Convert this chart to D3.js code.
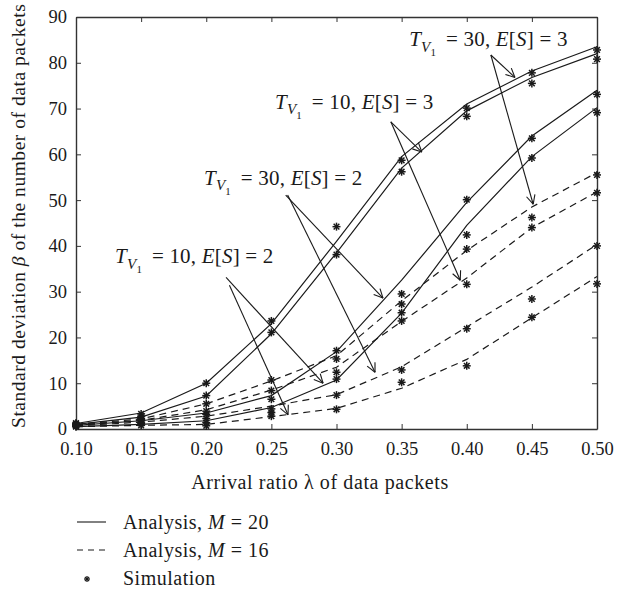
<!DOCTYPE html>
<html>
<head>
<meta charset="utf-8">
<script src="https://cdn.jsdelivr.net/npm/d3@7"></script>
<style>
  html, body { margin: 0; padding: 0; background: #fff; }
  svg { display: block; }
  text { font-family: "Liberation Serif", "Times New Roman", serif; fill: #1a1a1a; }
</style>
</head>
<body>
<svg id="chart" width="618" height="590"></svg>
<script>
// Arrival ratio values on the x axis
const lambdas = [0.10, 0.15, 0.20, 0.25, 0.30, 0.35, 0.40, 0.45, 0.50];
const xTicks = [0.10, 0.15, 0.20, 0.25, 0.30, 0.35, 0.40, 0.45, 0.50];
const yTicks = [0, 10, 20, 30, 40, 50, 60, 70, 80, 90];

// Analytical standard deviation, M = 20 (solid)
const anaM20_T30E3 = [1.2, 3.5, 10.0, 23.0, 41.0, 59.5, 71.0, 78.2, 83.5];
const anaM20_T10E3 = [1.0, 2.6, 7.2, 20.8, 38.5, 57.0, 69.5, 76.8, 82.0];
const anaM20_T30E2 = [0.8, 1.8, 3.5, 7.3, 16.9, 32.5, 49.5, 64.0, 74.0];
const anaM20_T10E2 = [0.5, 1.0, 1.8, 4.7, 10.7, 25.3, 44.5, 59.5, 70.2];
// Analytical standard deviation, M = 16 (dashed)
const anaM16_T30E3 = [1.0, 2.2, 5.5, 10.5, 16.0, 28.0, 39.0, 48.5, 56.0];
const anaM16_T10E3 = [0.9, 1.9, 4.2, 8.5, 13.5, 23.5, 33.0, 44.0, 51.8];
const anaM16_T30E2 = [0.7, 1.5, 2.8, 5.0, 7.5, 13.6, 22.3, 31.0, 40.3];
const anaM16_T10E2 = [0.5, 0.8, 1.0, 2.7, 4.5, 8.9, 15.2, 24.3, 33.3];

// Simulation results
const simM20_T30E3 = [1.3, 3.3, 10.0, 23.6, 44.2, 58.7, 70.1, 77.8, 82.8];
const simM20_T10E3 = [1.1, 2.8, 7.3, 21.1, 38.1, 56.2, 68.3, 75.5, 80.8];
const simM20_T30E2 = [0.9, 2.0, 3.9, 6.5, 17.1, 29.5, 50.1, 63.5, 73.1];
const simM20_T10E2 = [0.6, 1.2, 1.4, 4.4, 10.9, 25.4, 42.4, 59.2, 69.1];
const simM16_T30E3 = [1.0, 2.3, 5.5, 10.7, 15.3, 27.3, 39.3, 46.2, 55.5];
const simM16_T10E3 = [0.9, 1.9, 3.2, 8.4, 12.4, 23.6, 31.6, 44.0, 51.6];
const simM16_T30E2 = [0.7, 1.5, 2.3, 3.6, 7.4, 12.9, 21.9, 28.4, 40.0];
const simM16_T10E2 = [0.5, 0.8, 0.7, 2.8, 4.3, 10.2, 13.8, 24.4, 31.7];

const analysisSeries = [
  { values: anaM20_T30E3, dashed: false },
  { values: anaM20_T10E3, dashed: false },
  { values: anaM20_T30E2, dashed: false },
  { values: anaM20_T10E2, dashed: false },
  { values: anaM16_T30E3, dashed: true },
  { values: anaM16_T10E3, dashed: true },
  { values: anaM16_T30E2, dashed: true },
  { values: anaM16_T10E2, dashed: true }
];
const simulationSeries = [
  simM20_T30E3, simM20_T10E3, simM20_T30E2, simM20_T10E2,
  simM16_T30E3, simM16_T10E3, simM16_T30E2, simM16_T10E2
];

// Curve labels: text anchor and arrow tips in data units
const annotations = [
  { tv: "30", es: "3", at: [0.3558, 83.6], from: [[0.4185, 81.7], [0.4185, 81.7]],
    to: [[0.437, 76.8], [0.451, 49.1]] },
  { tv: "10", es: "3", at: [0.2528, 70.0], from: [[0.3417, 67.1], [0.3417, 67.1]],
    to: [[0.3655, 60.5], [0.395, 32.5]] },
  { tv: "30", es: "2", at: [0.1983, 53.4], from: [[0.2610, 51.1], [0.2625, 51.1]],
    to: [[0.3357, 28.6], [0.3296, 12.4]] },
  { tv: "10", es: "2", at: [0.1300, 36.2], from: [[0.2152, 33.1], [0.2178, 31.4]],
    to: [[0.2897, 10.0], [0.2628, 3.1]] }
];

const legendItems = [
  { kind: "solid", parts: [["Analysis, "], ["M", true], [" = 20"]] },
  { kind: "dashed", parts: [["Analysis, "], ["M", true], [" = 16"]] },
  { kind: "marker", parts: [["Simulation"]] }
];

const ink = "#1a1a1a";
const svg = d3.select("#chart");
const x = d3.scaleLinear().domain([0.10, 0.50]).range([76, 597]);
const y = d3.scaleLinear().domain([0, 90]).range([429, 17]);

// Axes box with inward ticks on all four sides
const fmtX = d3.format(".2f");
const axisStyle = g => {
  g.selectAll(".domain").attr("stroke", "#333").attr("stroke-width", 1.4);
  g.selectAll(".tick line").attr("stroke", "#333").attr("stroke-width", 1);
  g.selectAll("text").attr("font-family", "Liberation Serif, serif")
    .attr("font-size", 18.5).attr("fill", ink);
};
svg.append("g").attr("transform", `translate(0,${y(0)})`)
  .call(d3.axisBottom(x).tickValues(xTicks).tickFormat(fmtX).tickSizeInner(-5).tickSizeOuter(0).tickPadding(13))
  .call(axisStyle);
svg.append("g").attr("transform", `translate(0,${y(90)})`)
  .call(d3.axisTop(x).tickValues(xTicks).tickFormat("").tickSizeInner(-5).tickSizeOuter(0))
  .call(axisStyle);
svg.append("g").attr("transform", `translate(${x(0.10)},0)`)
  .call(d3.axisLeft(y).tickValues(yTicks).tickFormat(d3.format("d")).tickSizeInner(-5).tickSizeOuter(0).tickPadding(9))
  .call(axisStyle);
svg.append("g").attr("transform", `translate(${x(0.50)},0)`)
  .call(d3.axisRight(y).tickValues(yTicks).tickFormat("").tickSizeInner(-5).tickSizeOuter(0))
  .call(axisStyle);

// Analysis curves
const line = d3.line().x((d, i) => x(lambdas[i])).y(d => y(d));
svg.append("g").selectAll("path").data(analysisSeries).join("path")
  .attr("d", d => line(d.values))
  .attr("fill", "none")
  .attr("stroke", ink)
  .attr("stroke-width", 1.2)
  .attr("stroke-dasharray", d => d.dashed ? "7,5" : null);

// Simulation markers (asterisks)
function asterisk(g, cx, cy, r, w) {
  const a = r * Math.SQRT1_2;
  const segs = [[-r, 0, r, 0], [0, -r, 0, r], [-a, -a, a, a], [-a, a, a, -a]];
  segs.forEach(s => g.append("line")
    .attr("x1", cx + s[0]).attr("y1", cy + s[1]).attr("x2", cx + s[2]).attr("y2", cy + s[3])
    .attr("stroke", ink).attr("stroke-width", w));
}
const markerLayer = svg.append("g");
simulationSeries.forEach(vals => vals.forEach((v, i) => asterisk(markerLayer, x(lambdas[i]), y(v), 4, 1.5)));

// Rich text helper: parts are [text, italic, level]
function rich(textSel, parts, size) {
  let level = 0;
  const shift = [0, 5.5, 10];
  const sizes = [size, size * 0.72, size * 0.52];
  parts.forEach(p => {
    const lv = p[2] || 0;
    textSel.append("tspan")
      .attr("dy", shift[lv] - shift[level])
      .attr("font-size", sizes[lv])
      .attr("font-style", p[1] ? "italic" : "normal")
      .text(p[0]);
    level = lv;
  });
}

// Curve labels with arrows
function arrow(g, p0, p1) {
  const [x0, y0] = [x(p0[0]), y(p0[1])];
  const [x1, y1] = [x(p1[0]), y(p1[1])];
  g.append("line").attr("x1", x0).attr("y1", y0).attr("x2", x1).attr("y2", y1)
    .attr("stroke", ink).attr("stroke-width", 1.1);
  const ang = Math.atan2(y1 - y0, x1 - x0);
  const len = 10, spread = 0.45;
  [ang + Math.PI - spread, ang + Math.PI + spread].forEach(a => {
    g.append("line").attr("x1", x1).attr("y1", y1)
      .attr("x2", x1 + len * Math.cos(a)).attr("y2", y1 + len * Math.sin(a))
      .attr("stroke", ink).attr("stroke-width", 1.1);
  });
}
const annLayer = svg.append("g");
annotations.forEach(a => {
  const t = annLayer.append("text").attr("x", x(a.at[0])).attr("y", y(a.at[1]))
    .attr("letter-spacing", 0.2);
  rich(t, [["T", true], ["V", true, 1], ["1", false, 2], ["\u2009 = " + a.tv + ", "],
           ["E", true], ["["], ["S", true], ["] = " + a.es]], 21);
  a.to.forEach((tip, k) => arrow(annLayer, a.from[k], tip));
});

// Axis titles
svg.append("text").attr("x", 320).attr("y", 489).attr("text-anchor", "middle")
  .attr("font-size", 20).attr("letter-spacing", 0.6)
  .text("Arrival ratio \u03bb of data packets");
const yt = svg.append("text").attr("transform", "translate(25,216) rotate(-90)")
  .attr("text-anchor", "middle").attr("font-size", 19.5).attr("letter-spacing", 0.2)
  .attr("textLength", 424).attr("lengthAdjust", "spacing");
yt.append("tspan").text("Standard deviation ");
yt.append("tspan").attr("font-style", "italic").text("\u03b2");
yt.append("tspan").text(" of the number of data packets");

// Legend
const legend = svg.append("g");
legendItems.forEach((it, i) => {
  const cy = 522 + i * 28;
  if (it.kind === "marker") {
    asterisk(legend, 87, cy + 1, 3, 1.3);
  } else {
    legend.append("line").attr("x1", 77).attr("x2", 106).attr("y1", cy).attr("y2", cy)
      .attr("stroke", ink).attr("stroke-width", 1.1)
      .attr("stroke-dasharray", it.kind === "dashed" ? "6,5" : null);
  }
  const t = legend.append("text").attr("x", 123).attr("y", cy + 7)
    .attr("letter-spacing", 0.5);
  rich(t, it.parts, 20);
});
</script>
</body>
</html>
